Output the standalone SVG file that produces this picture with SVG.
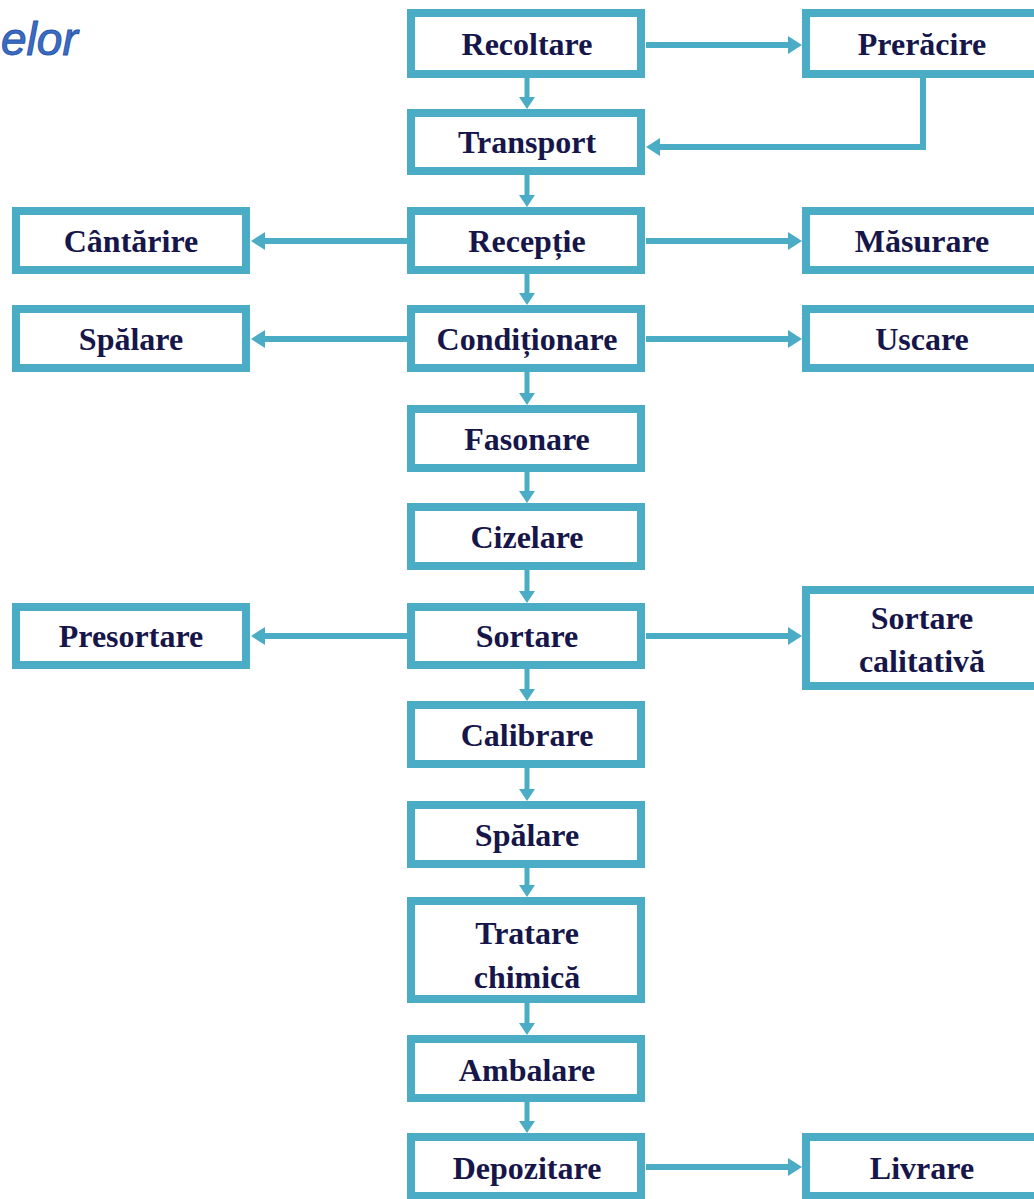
<svg xmlns="http://www.w3.org/2000/svg" width="1034" height="1199" viewBox="0 0 1034 1199">
<defs>
<style>
.box{fill:#ffffff;stroke:#4bacc6;stroke-width:8}
.lbl{font-family:"Liberation Serif","Times New Roman",serif;font-weight:bold;font-size:32px;fill:#16164a;text-anchor:middle}
.c{stroke:#4bacc6;stroke-width:6;fill:none}
.v{stroke:#4bacc6;stroke-width:5;fill:none}
.title{font-family:"Liberation Sans",Arial,sans-serif;font-style:italic;font-size:46px;fill:#3a6cc6;stroke:#2a55a8;stroke-width:1}
</style>
<marker id="ah" markerUnits="userSpaceOnUse" viewBox="0 0 14 18" refX="9" refY="9" markerWidth="14" markerHeight="18" orient="auto">
<path d="M0,0 L14,9 L0,18 Z" fill="#4bacc6"/>
</marker>
<marker id="av" markerUnits="userSpaceOnUse" viewBox="0 0 12 16" refX="7" refY="8" markerWidth="12" markerHeight="16" orient="auto">
<path d="M0,0 L12,8 L0,16 Z" fill="#4bacc6"/>
</marker>
</defs>
<rect width="1034" height="1199" fill="#ffffff"/>
<text class="title" x="1" y="55">elor</text>

<g id="connectors">
<line class="c" x1="646" y1="45" x2="797" y2="45" marker-end="url(#ah)"/>
<polyline class="c" points="923,77 923,147 651,147" marker-end="url(#ah)"/>
<line class="v" x1="527" y1="78" x2="527" y2="104" marker-end="url(#av)"/>
<line class="v" x1="527" y1="175" x2="527" y2="202" marker-end="url(#av)"/>
<line class="c" x1="407" y1="241" x2="256" y2="241" marker-end="url(#ah)"/>
<line class="c" x1="646" y1="241" x2="797" y2="241" marker-end="url(#ah)"/>
<line class="v" x1="527" y1="274" x2="527" y2="300" marker-end="url(#av)"/>
<line class="c" x1="407" y1="339" x2="256" y2="339" marker-end="url(#ah)"/>
<line class="c" x1="646" y1="339" x2="797" y2="339" marker-end="url(#ah)"/>
<line class="v" x1="527" y1="372" x2="527" y2="400" marker-end="url(#av)"/>
<line class="v" x1="527" y1="472" x2="527" y2="498" marker-end="url(#av)"/>
<line class="v" x1="527" y1="570" x2="527" y2="598" marker-end="url(#av)"/>
<line class="c" x1="407" y1="636" x2="256" y2="636" marker-end="url(#ah)"/>
<line class="c" x1="646" y1="636" x2="797" y2="636" marker-end="url(#ah)"/>
<line class="v" x1="527" y1="669" x2="527" y2="696" marker-end="url(#av)"/>
<line class="v" x1="527" y1="768" x2="527" y2="796" marker-end="url(#av)"/>
<line class="v" x1="527" y1="868" x2="527" y2="892" marker-end="url(#av)"/>
<line class="v" x1="527" y1="1003" x2="527" y2="1030" marker-end="url(#av)"/>
<line class="v" x1="527" y1="1102" x2="527" y2="1128" marker-end="url(#av)"/>
<line class="c" x1="646" y1="1167" x2="797" y2="1167" marker-end="url(#ah)"/>
</g>

<g id="n-recoltare"><rect class="box" x="411" y="13" width="230" height="61"/><text class="lbl" x="527" y="55">Recoltare</text></g>
<g id="n-preracire"><rect class="box" x="806" y="13" width="240" height="61"/><text class="lbl" x="922" y="55">Prerăcire</text></g>
<g id="n-transport"><rect class="box" x="411" y="113" width="230" height="58"/><text class="lbl" x="527" y="153">Transport</text></g>
<g id="n-cantarire"><rect class="box" x="16" y="211" width="230" height="59"/><text class="lbl" x="131" y="252">Cântărire</text></g>
<g id="n-receptie"><rect class="box" x="411" y="211" width="230" height="59"/><text class="lbl" x="527" y="252">Recepție</text></g>
<g id="n-masurare"><rect class="box" x="806" y="211" width="240" height="59"/><text class="lbl" x="922" y="252">Măsurare</text></g>
<g id="n-spalare1"><rect class="box" x="16" y="309" width="230" height="59"/><text class="lbl" x="131" y="350">Spălare</text></g>
<g id="n-conditionare"><rect class="box" x="411" y="309" width="230" height="59"/><text class="lbl" x="527" y="350">Condiționare</text></g>
<g id="n-uscare"><rect class="box" x="806" y="309" width="240" height="59"/><text class="lbl" x="922" y="350">Uscare</text></g>
<g id="n-fasonare"><rect class="box" x="411" y="409" width="230" height="59"/><text class="lbl" x="527" y="450">Fasonare</text></g>
<g id="n-cizelare"><rect class="box" x="411" y="507" width="230" height="59"/><text class="lbl" x="527" y="548">Cizelare</text></g>
<g id="n-presortare"><rect class="box" x="16" y="607" width="230" height="58"/><text class="lbl" x="131" y="647">Presortare</text></g>
<g id="n-sortare"><rect class="box" x="411" y="607" width="230" height="58"/><text class="lbl" x="527" y="647">Sortare</text></g>
<g id="n-sortarecal"><rect class="box" x="806" y="590" width="240" height="96"/><text class="lbl" x="922" y="629">Sortare</text><text class="lbl" x="922" y="672">calitativă</text></g>
<g id="n-calibrare"><rect class="box" x="411" y="705" width="230" height="59"/><text class="lbl" x="527" y="746">Calibrare</text></g>
<g id="n-spalare2"><rect class="box" x="411" y="805" width="230" height="59"/><text class="lbl" x="527" y="846">Spălare</text></g>
<g id="n-tratare"><rect class="box" x="411" y="901" width="230" height="98"/><text class="lbl" x="527" y="944">Tratare</text><text class="lbl" x="527" y="988">chimică</text></g>
<g id="n-ambalare"><rect class="box" x="411" y="1039" width="230" height="59"/><text class="lbl" x="527" y="1081">Ambalare</text></g>
<g id="n-depozitare"><rect class="box" x="411" y="1137" width="230" height="59"/><text class="lbl" x="527" y="1179">Depozitare</text></g>
<g id="n-livrare"><rect class="box" x="806" y="1137" width="240" height="59"/><text class="lbl" x="922" y="1179">Livrare</text></g>
</svg>
